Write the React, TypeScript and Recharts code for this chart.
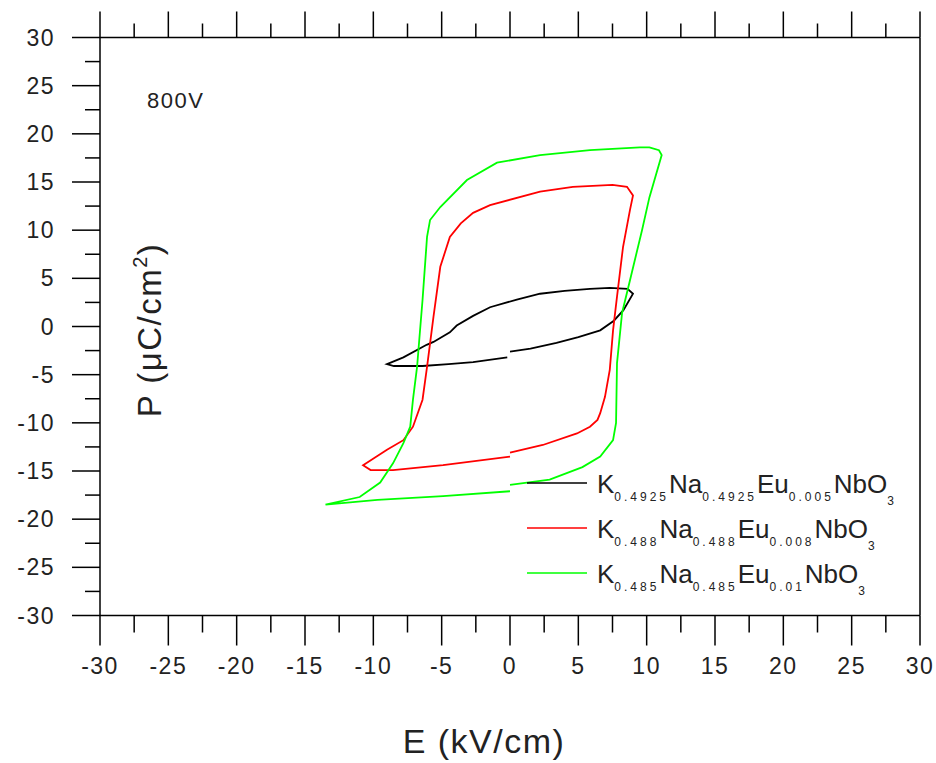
import { LineChart, Line, XAxis, YAxis, ReferenceLine } from 'recharts';

// E (kV/cm) and P (uC/cm2), loop order: 0 -> +Emax -> -Emax -> 0
const E_0005 = [0, 1.5, 3.4, 5.0, 6.6, 7.6, 8.3, 9.0, 8.6, 7.3, 5.85, 4.0, 2.2, 0.5, -1.46, -2.7, -3.9, -4.4, -5.6, -6.1, -7.8, -9.0, -8.5, -6.4, -4.5, -2.7, -0.2];
const P_0005 = [-2.6, -2.3, -1.7, -1.1, -0.4, 0.6, 1.7, 3.4, 3.9, 4.0, 3.9, 3.7, 3.4, 2.8, 2.0, 1.1, 0.1, -0.6, -1.6, -1.9, -3.2, -3.9, -4.1, -4.1, -3.9, -3.7, -3.2];

const E_0008 = [0, 2.4, 4.9, 5.85, 6.4, 6.6, 6.95, 7.3, 7.54, 7.83, 8.27, 8.78, 9.0, 8.56, 7.5, 4.6, 2.2, -1.46, -2.7, -3.6, -4.4, -5.1, -5.6, -6.07, -6.4, -7.1, -7.8, -9.0, -10.75, -10.2, -8.56, -4.9, 0];
const P_0008 = [-13.1, -12.3, -11.1, -10.4, -9.7, -9.0, -7.3, -4.5, -0.4, 3.1, 8.25, 12.1, 13.6, 14.5, 14.7, 14.5, 14.0, 12.6, 11.8, 10.7, 9.3, 6.2, 1.0, -4.2, -7.6, -10.4, -11.8, -12.8, -14.4, -14.9, -14.9, -14.4, -13.5];

const E_001 = [0, 2.9, 5.3, 6.6, 7.54, 7.76, 7.83, 8.2, 8.78, 9.66, 10.2, 11.1, 10.9, 10.2, 9.5, 5.85, 2.2, -0.95, -3.15, -5.1, -5.85, -6.07, -6.4, -6.6, -6.8, -7.1, -7.3, -7.8, -8.56, -9.5, -11.0, -13.5, -9.7, -4.9, 0];
const P_001 = [-16.45, -15.9, -14.6, -13.5, -11.8, -10.0, -3.8, 1.4, 4.8, 10.0, 13.4, 17.8, 18.3, 18.6, 18.6, 18.3, 17.8, 17.0, 15.2, 12.4, 11.05, 9.3, 2.75, -0.7, -4.2, -7.6, -10.4, -12.1, -14.2, -16.2, -17.7, -18.5, -18.0, -17.6, -17.1];

const TICKS = [-30, -27.5, -25, -22.5, -20, -17.5, -15, -12.5, -10, -7.5, -5, -2.5, 0, 2.5, 5, 7.5, 10, 12.5, 15, 17.5, 20, 22.5, 25, 27.5, 30];

const SERIES = [
  { name: 'x0005', color: '#000000', e: E_0005, p: P_0005, k: '0.4925', eu: '0.005' },
  { name: 'x0008', color: '#ff0000', e: E_0008, p: P_0008, k: '0.488', eu: '0.008' },
  { name: 'x001', color: '#00ff00', e: E_001, p: P_001, k: '0.485', eu: '0.01' },
];

const FONT = 'Arial, "Liberation Sans", sans-serif';

const toPoints = (e: number[], p: number[]) => e.map((v, i) => ({ e: v, p: p[i] }));

function BottomTick({ x, y, payload }: any) {
  const major = payload.value % 5 === 0;
  return (
    <g>
      <line x1={x} x2={x} y1={y} y2={y + (major ? 30 : 17)} stroke="#000" strokeWidth={1.5} />
      {major && (
        <text x={x} y={y + 58} textAnchor="middle" fontSize={23} letterSpacing={1.5} fontFamily={FONT} fill="#222">
          {payload.value}
        </text>
      )}
    </g>
  );
}

function TopTick({ x, y, payload }: any) {
  const major = payload.value % 5 === 0;
  return <line x1={x} x2={x} y1={y} y2={y - (major ? 26 : 14)} stroke="#000" strokeWidth={1.5} />;
}

function LeftTick({ x, y, payload }: any) {
  const major = payload.value % 5 === 0;
  return (
    <g>
      <line x1={x} x2={x - (major ? 28 : 15)} y1={y} y2={y} stroke="#000" strokeWidth={1.5} />
      {major && (
        <text x={x - 45} y={y + 8} textAnchor="end" fontSize={23} letterSpacing={1.5} fontFamily={FONT} fill="#222">
          {payload.value}
        </text>
      )}
    </g>
  );
}

function LegendRows() {
  return (
    <g transform="translate(527, 463)">
      {SERIES.map((s, i) => {
        const cy = 20 + i * 45;
        const sub = { fontSize: 12, letterSpacing: 3 };
        return (
          <g key={s.name}>
            <line x1={0} x2={60} y1={cy} y2={cy} stroke={s.color} strokeWidth={1.5} />
            <text x={70} y={cy + 10} fontSize={26} fontFamily={FONT} fill="#222">
              K<tspan {...sub} dy={8}>{s.k}</tspan>
              <tspan dy={-8}>Na</tspan>
              <tspan {...sub} dy={8}>{s.k}</tspan>
              <tspan dy={-8}>Eu</tspan>
              <tspan {...sub} dy={8}>{s.eu}</tspan>
              <tspan dy={-8}>NbO</tspan>
              <tspan fontSize={12} dy={12}>3</tspan>
            </text>
          </g>
        );
      })}
    </g>
  );
}

export default function App() {
  return (
    <div style={{ position: 'relative', width: 936, height: 763, background: '#fff' }}>
      <style>{'body { margin: 0; }'}</style>
      <LineChart width={936} height={763} margin={{ top: 17.5, right: 16, bottom: 117.5, left: 40 }}>
        <XAxis
          xAxisId="b"
          type="number"
          dataKey="e"
          domain={[-30, 30]}
          ticks={TICKS}
          interval={0}
          tickSize={0}
          tickMargin={0}
          tickLine={false}
          tick={<BottomTick />}
          axisLine={{ stroke: '#000', strokeWidth: 1.5 }}
          height={30}
          allowDataOverflow
        />
        <XAxis
          xAxisId="t"
          orientation="top"
          type="number"
          dataKey="e"
          domain={[-30, 30]}
          ticks={TICKS}
          interval={0}
          tickSize={0}
          tickMargin={0}
          tickLine={false}
          tick={<TopTick />}
          axisLine={{ stroke: '#000', strokeWidth: 1.5 }}
          height={20}
          allowDataOverflow
        />
        <YAxis
          yAxisId="l"
          type="number"
          dataKey="p"
          domain={[-30, 30]}
          ticks={TICKS}
          interval={0}
          tickSize={0}
          tickMargin={0}
          tickLine={false}
          tick={<LeftTick />}
          axisLine={{ stroke: '#000', strokeWidth: 1.5 }}
          width={60}
          allowDataOverflow
        />
        <ReferenceLine xAxisId="b" yAxisId="l" x={30} stroke="#000" strokeWidth={1.5} />
        {SERIES.map((s) => (
          <Line
            key={s.name}
            xAxisId="b"
            yAxisId="l"
            data={toPoints(s.e, s.p)}
            dataKey="p"
            type="linear"
            stroke={s.color}
            strokeWidth={1.8}
            dot={false}
            activeDot={false}
            isAnimationActive={false}
          />
        ))}
      </LineChart>
      <svg width={936} height={763} style={{ position: 'absolute', left: 0, top: 0, pointerEvents: 'none' }}>
        <LegendRows />
        <text x={147} y={108} fontSize={22} letterSpacing={1.5} fontFamily={FONT} fill="#222">800V</text>
        <text x={484} y={753} textAnchor="middle" fontSize={34} letterSpacing={1.5} fontFamily={FONT} fill="#222">
          E (kV/cm)
        </text>
        <text
          x={161}
          y={330}
          transform="rotate(-90, 161, 330)"
          textAnchor="middle"
          fontSize={33}
          letterSpacing={1.5}
          fontFamily={FONT}
          fill="#222"
        >
          P (μC/cm<tspan fontSize={20} dy={-14}>2</tspan><tspan dy={14}>)</tspan>
        </text>
      </svg>
    </div>
  );
}
